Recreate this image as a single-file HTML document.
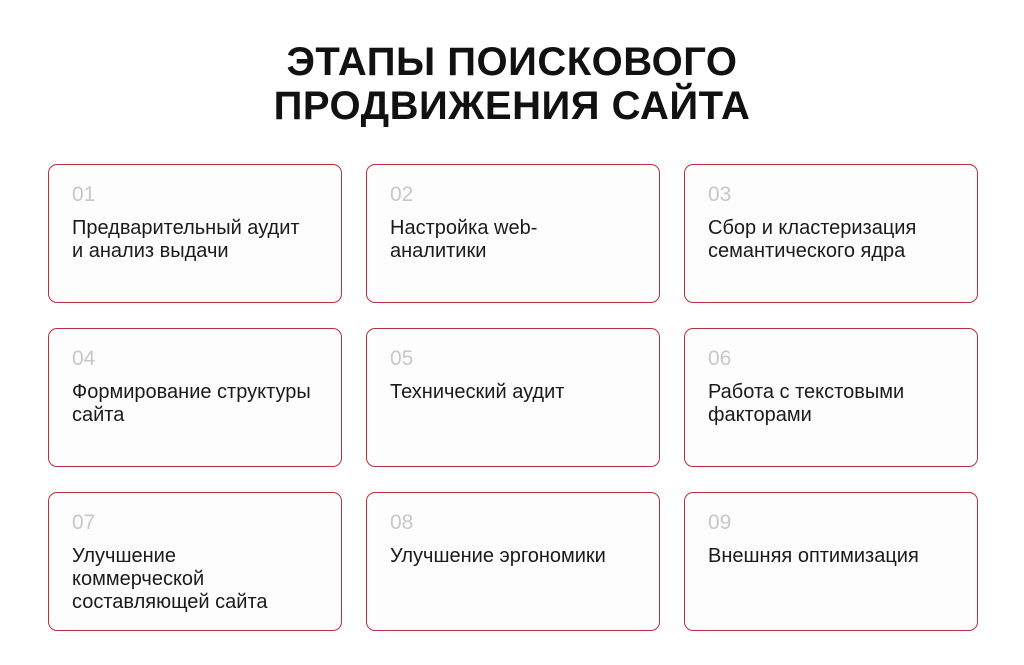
<!DOCTYPE html>
<html><head><meta charset="utf-8"><style>
body{margin:0;width:1024px;height:665px;background:#fff;font-family:"Liberation Sans",sans-serif;position:relative;overflow:hidden}
h1{position:absolute;top:40px;left:0;width:1024px;margin:0;text-align:center;font-size:40px;line-height:44px;font-weight:bold;color:#111;letter-spacing:0.5px}
.c{position:absolute;width:292px;height:137px;border:1px solid #b8303c;border-radius:9px;background:#fdfdfd;box-sizing:content-box}
.n{position:absolute;left:23px;top:18px;font-size:21px;color:#c8c8c8}
.t{position:absolute;left:23px;top:52px;font-size:20px;line-height:23px;color:#1a1a1a;width:268px}
</style></head><body>
<h1>ЭТАПЫ ПОИСКОВОГО<br>ПРОДВИЖЕНИЯ САЙТА</h1>
<div class="c" style="left:48px;top:164px"><div class="n">01</div><div class="t">Предварительный аудит<br>и анализ выдачи</div></div>
<div class="c" style="left:366px;top:164px"><div class="n">02</div><div class="t">Настройка web-<br>аналитики</div></div>
<div class="c" style="left:684px;top:164px"><div class="n">03</div><div class="t">Сбор и кластеризация<br>семантического ядра</div></div>
<div class="c" style="left:48px;top:328px"><div class="n">04</div><div class="t">Формирование структуры<br>сайта</div></div>
<div class="c" style="left:366px;top:328px"><div class="n">05</div><div class="t">Технический аудит</div></div>
<div class="c" style="left:684px;top:328px"><div class="n">06</div><div class="t">Работа с текстовыми<br>факторами</div></div>
<div class="c" style="left:48px;top:492px"><div class="n">07</div><div class="t">Улучшение<br>коммерческой<br>составляющей сайта</div></div>
<div class="c" style="left:366px;top:492px"><div class="n">08</div><div class="t">Улучшение эргономики</div></div>
<div class="c" style="left:684px;top:492px"><div class="n">09</div><div class="t">Внешняя оптимизация</div></div>
</body></html>
